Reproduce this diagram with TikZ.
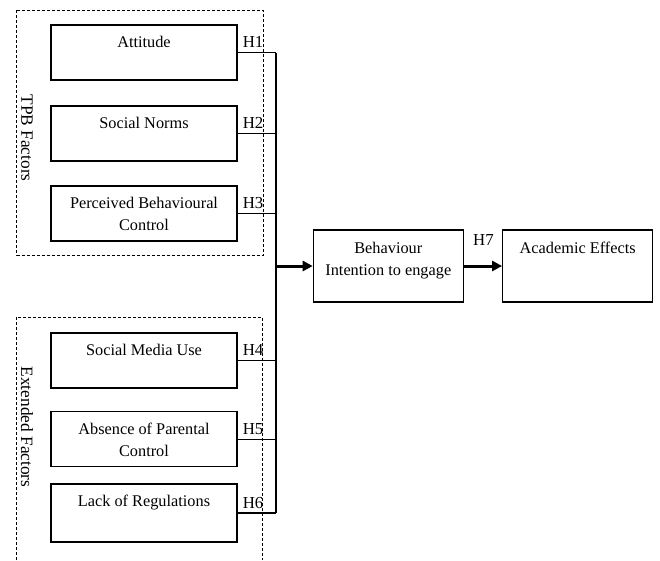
\documentclass[tikz,border=0pt]{standalone}
\usepackage{fontspec}
\setmainfont{Liberation Serif}
\usetikzlibrary{arrows.meta}
\begin{document}
\begin{tikzpicture}[x=1pt,y=-1pt,
  box/.style={draw, line width=1.2pt, inner sep=0pt, minimum width=186pt, minimum height=55pt},
  wide/.style={box, minimum width=150pt, minimum height=72pt},
  txt/.style={anchor=north, inner sep=0pt, align=center, font=\fontsize{16.3}{22}\selectfont},
  hl/.style={anchor=base west, inner sep=0pt, font=\fontsize{16.8}{19}\selectfont},
  grp/.style={draw, line width=0.9pt, dash pattern=on 3pt off 2pt},
  side/.style={rotate=-90, inner sep=0pt, font=\fontsize{17.3}{19}\selectfont},
  link/.style={line width=1.4pt},
  flow/.style={line width=3pt, -{Triangle[length=10pt,width=10pt]}}]
\useasboundingbox (0,0) rectangle (660,560);

% group frames
\draw[grp] (16.5,10) rectangle (263,255);
\draw[grp] (16,560) -- (16,317) -- (262,317) -- (262,560);
\node[side] (tpb) at (27,138) {TPB Factors};
\node[side] (ext) at (27,427) {Extended Factors};

% factor boxes
\node[box] (att) at (144,52.5) {};
\node[box] (sn)  at (144,133.5) {};
\node[box] (pbc) at (144,213.5) {};
\node[box] (smu) at (144,360.5) {};
\node[box] (apc) at (144,439.2) {};
\node[box, minimum height=58pt] (lor) at (144,513) {};

\node[txt] (tatt) at ([yshift=-11pt]att.north) {\rule{0pt}{12pt}Attitude};
\node[txt] (tsn)  at ([yshift=-11pt]sn.north)  {\rule{0pt}{12pt}Social Norms};
\node[txt] (tpbc) at ([yshift=-11pt]pbc.north) {\rule{0pt}{12pt}Perceived Behavioural\\Control};
\node[txt] (tsmu) at ([yshift=-11pt]smu.north) {\rule{0pt}{12pt}Social Media Use};
\node[txt] (tapc) at ([yshift=-11pt]apc.north) {\rule{0pt}{12pt}Absence of Parental\\Control};
\node[txt] (tlor) at ([yshift=-11pt]lor.north) {\rule{0pt}{12pt}Lack of Regulations};

% outcome boxes
\node[wide] (beh) at (388.3,266) {};
\node[wide] (acad) at (577.7,266) {};
\node[txt] (tbeh) at ([yshift=-12pt]beh.north) {\rule{0pt}{12pt}Behaviour\\Intention to engage};
\node[txt] (tacad) at ([yshift=-12pt]acad.north) {\rule{0pt}{12pt}Academic Effects};

% bus
\coordinate (bx) at (276,0);
\foreach \n/\h in {att/H1,sn/H2,pbc/H3,smu/H4,apc/H5,lor/H6}{
  \draw[link] (\n.east) -- (\n.east -| bx);
  \node[hl] (lab\n) at ([xshift=5pt,yshift=5pt]\n.east) {\h};
}
\draw[link] (att.east -| bx) -- (lor.east -| bx);

% arrows
\draw[flow] (beh.west -| bx) -- (beh.west);
\draw[flow] (beh.east) -- (acad.west);
\node[hl] (h7) at (473,245) {H7};
\end{tikzpicture}
\end{document}
